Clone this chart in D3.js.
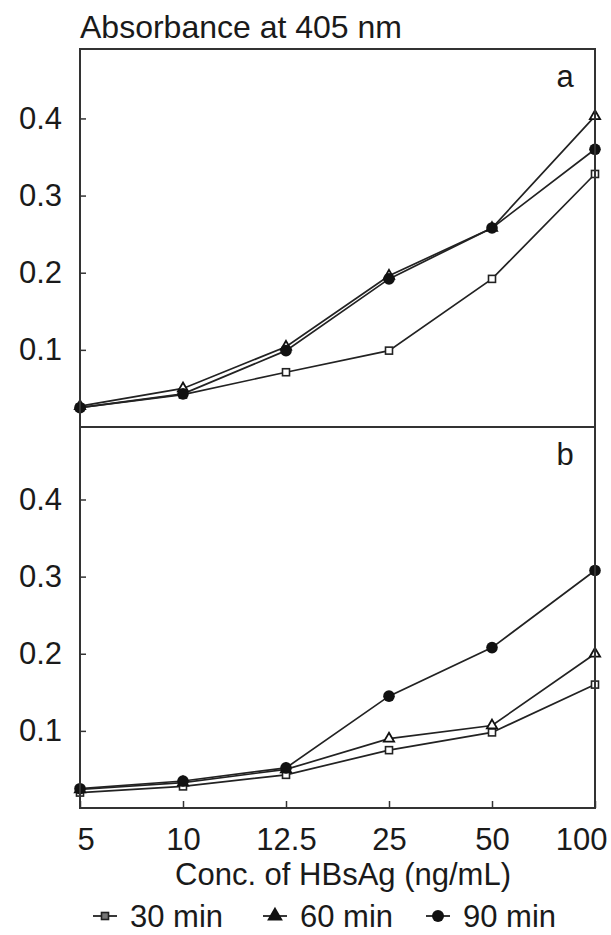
<!DOCTYPE html>
<html>
<head>
  <meta charset="utf-8">
  <title>Absorbance vs HBsAg</title>
  <style>
    body { margin: 0; background: #fff; }
    text { font-family: "Liberation Sans", Arial, sans-serif; fill: #1a1a1a; }
  </style>
</head>
<body>
<script src="https://cdnjs.cloudflare.com/ajax/libs/d3/7.8.5/d3.min.js"></script>
<script>
var w = 611; // page width
var h = 935; // page height

// categories on the x axis (ng/mL)
var conc = ["5", "10", "12.5", "25", "50", "100"];
var yTicks = [0.1, 0.2, 0.3, 0.4];

// panel a
var a30 = [0.025, 0.042, 0.071, 0.099, 0.192, 0.328];
var a60 = [0.027, 0.050, 0.104, 0.196, 0.258, 0.403];
var a90 = [0.025, 0.043, 0.099, 0.192, 0.258, 0.360];

// panel b
var b30 = [0.020, 0.028, 0.043, 0.075, 0.098, 0.160];
var b60 = [0.024, 0.033, 0.050, 0.090, 0.107, 0.200];
var b90 = [0.025, 0.035, 0.052, 0.145, 0.208, 0.308];

var seriesNames = ["30 min", "60 min", "90 min"];
var shapes = ["square", "triangle", "circle"];

var left = 80, right = 595;
var topA = 49, mid = 427, bottom = 808;

var svg = d3.select("body").append("svg")
  .attr("width", w)
  .attr("height", h);

var x = d3.scalePoint().domain(conc).range([left, right]);
var yA = d3.scaleLinear().domain([0, 0.49]).range([mid, topA]);
var yB = d3.scaleLinear().domain([0, 0.494]).range([bottom, mid]);

// draws one marker shape at the origin of g
function marker(g, shape, legend) {
  if (shape == "square") {
    g.append("rect").attr("x", -3.5).attr("y", -3.5).attr("width", 7).attr("height", 7)
      .attr("fill", legend ? "#777" : "#fff").attr("stroke", "#222").attr("stroke-width", 1.6);
  } else if (shape == "triangle") {
    g.append("path").attr("d", d3.symbol().type(d3.symbolTriangle).size(legend ? 70 : 45))
      .attr("fill", legend ? "#111" : "#fff").attr("stroke", "#111").attr("stroke-width", 1.8);
  } else {
    g.append("circle").attr("r", legend ? 6 : 5.8).attr("fill", "#111");
  }
}

function panel(y, series, label, yTop) {
  var g = svg.append("g");

  var yAxis = d3.axisLeft(y).tickValues(yTicks).tickSize(-6).tickPadding(18)
    .tickFormat(d3.format(".1f"));
  var ax = g.append("g").attr("transform", "translate(" + left + ",0)").call(yAxis);
  ax.select(".domain").remove();
  ax.selectAll("line").attr("stroke", "#333").attr("stroke-width", 1.5);
  ax.selectAll("text").attr("font-size", 31).attr("fill", "#1a1a1a")
    .attr("font-family", "Liberation Sans, Arial, sans-serif");

  var line = d3.line()
    .x(function(d, i) { return x(conc[i]); })
    .y(function(d) { return y(d); });

  series.forEach(function(s) {
    g.append("path").datum(s)
      .attr("d", line)
      .attr("fill", "none")
      .attr("stroke", "#222")
      .attr("stroke-width", 1.7);
  });
  series.forEach(function(s, k) {
    g.selectAll(null).data(s).enter().append("g")
      .attr("transform", function(d, i) { return "translate(" + x(conc[i]) + "," + y(d) + ")"; })
      .each(function() { marker(d3.select(this), shapes[k], false); });
  });

  g.append("text").attr("x", 565).attr("y", yTop + 38)
    .attr("text-anchor", "middle").attr("font-size", 31).text(label);
}

panel(yA, [a30, a60, a90], "a", topA);
panel(yB, [b30, b60, b90], "b", mid);

// frame and divider
svg.append("rect").attr("x", left).attr("y", topA)
  .attr("width", right - left).attr("height", bottom - topA)
  .attr("fill", "none").attr("stroke", "#333").attr("stroke-width", 2);
svg.append("line").attr("x1", left).attr("x2", right).attr("y1", mid).attr("y2", mid)
  .attr("stroke", "#333").attr("stroke-width", 2);

// x axis, ticks pointing inward
var xAxis = d3.axisBottom(x).tickSize(-7).tickPadding(20);
var xg = svg.append("g").attr("transform", "translate(0," + bottom + ")").call(xAxis);
xg.select(".domain").remove();
xg.selectAll("line").attr("stroke", "#333").attr("stroke-width", 1.5);
xg.selectAll("text").attr("font-size", 31).attr("fill", "#1a1a1a")
  .attr("font-family", "Liberation Sans, Arial, sans-serif");
xg.selectAll(".tick").filter(function(d) { return d == "5"; }).select("text")
  .attr("text-anchor", "start").attr("dx", -3);
xg.selectAll(".tick").filter(function(d) { return d == "100"; }).select("text")
  .attr("text-anchor", "end").attr("dx", 12);

// axis titles
svg.append("text").attr("x", left).attr("y", 38).attr("font-size", 32)
  .text("Absorbance at 405 nm");
svg.append("text").attr("x", 343).attr("y", 885).attr("text-anchor", "middle")
  .attr("font-size", 31).text("Conc. of HBsAg (ng/mL)");

// legend
var legX = [105, 275, 438];
seriesNames.forEach(function(name, k) {
  var lg = svg.append("g").attr("transform", "translate(" + legX[k] + ",916)");
  lg.append("line").attr("x1", -12).attr("x2", 12).attr("stroke", "#222").attr("stroke-width", 1.8);
  marker(lg, shapes[k], true);
  lg.append("text").attr("x", 25).attr("y", 11).attr("font-size", 31).text(name);
});
</script>
</body>
</html>
